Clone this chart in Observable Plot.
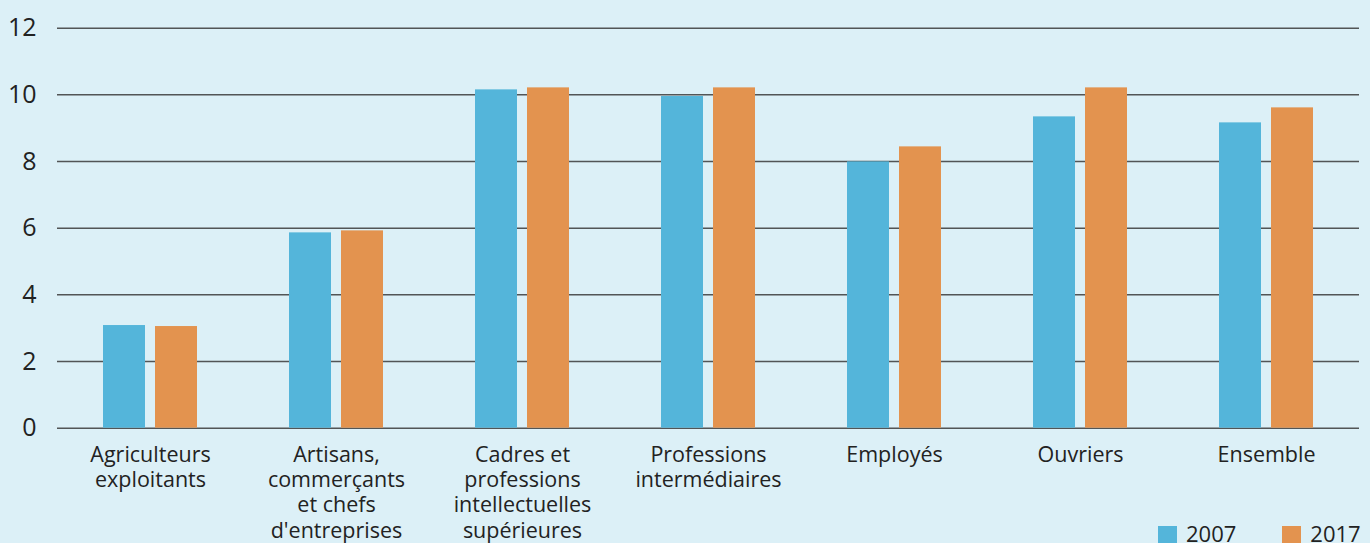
<!DOCTYPE html>
<html>
<head>
<meta charset="utf-8">
<script src="https://cdn.jsdelivr.net/npm/d3@7"></script>
<script src="https://cdn.jsdelivr.net/npm/@observablehq/plot@0.6"></script>
<style>
  html, body { margin: 0; padding: 0; background: #dcf0f7; overflow: hidden; }
  #chart { position: relative; width: 1370px; height: 543px; }
  #legend { position: absolute; left: 1158px; top: 518px; display: flex; font-family: "Open Sans", sans-serif; font-size: 22px; color: #222; }
  .sw { display: flex; align-items: center; }
  .box { width: 19px; height: 19px; margin-right: 9px; margin-top: 5px; }
</style>
</head>
<body>
<div id="chart"></div>
<script>
const categories = [
  "Agriculteurs\nexploitants",
  "Artisans,\ncommerçants\net chefs\nd'entreprises",
  "Cadres et\nprofessions\nintellectuelles\nsupérieures",
  "Professions\nintermédiaires",
  "Employés",
  "Ouvriers",
  "Ensemble"
];
const years = ["2007", "2017"];
const values2007 = [3.08, 5.86, 10.15, 9.95, 7.99, 9.34, 9.16];
const values2017 = [3.05, 5.92, 10.21, 10.21, 8.44, 10.21, 9.61];
const yTicks = [0, 2, 4, 6, 8, 10, 12];
const colors = ["#54b5da", "#e3934f"];

const data = [];
categories.forEach((c, i) => {
  data.push({category: c, year: years[0], value: values2007[i]});
  data.push({category: c, year: years[1], value: values2017[i]});
});

const chart = Plot.plot({
  width: 1370,
  height: 543,
  marginLeft: 56,
  marginRight: 10,
  marginTop: 27.7,
  marginBottom: 115.3,
  style: {background: "#dcf0f7", fontFamily: "Open Sans, sans-serif", color: "#222", overflow: "visible"},
  fx: {domain: categories, padding: 0, label: null},
  x: {domain: years, paddingInner: 0.1887, paddingOuter: 0.852, axis: null},
  y: {domain: [0, 12], ticks: yTicks, label: null},
  color: {domain: years, range: colors},
  marks: [
    Plot.gridY(yTicks, {stroke: "#3a3a3a", strokeOpacity: 0.85, strokeWidth: 1.5}),
    Plot.barY(data, {fx: "category", x: "year", y: "value", fill: "year"}),
    Plot.axisY(yTicks, {tickSize: 0, tickPadding: 21, fontSize: 25, fill: "#222", textAnchor: "end"}),
    Plot.axisFx({anchor: "bottom", tickSize: 0, tickPadding: 16, fontSize: 21.5, lineHeight: 1.17, fill: "#222", label: null})
  ]
});
document.getElementById("chart").appendChild(chart);

const legend = document.createElement("div");
legend.id = "legend";
years.forEach((y, i) => {
  const s = document.createElement("div");
  s.className = "sw";
  s.style.marginRight = i === 0 ? "46px" : "0";
  const b = document.createElement("div");
  b.className = "box";
  b.style.background = colors[i];
  const t = document.createElement("span");
  t.textContent = y;
  s.appendChild(b); s.appendChild(t);
  legend.appendChild(s);
});
document.getElementById("chart").appendChild(legend);
</script>
</body>
</html>
